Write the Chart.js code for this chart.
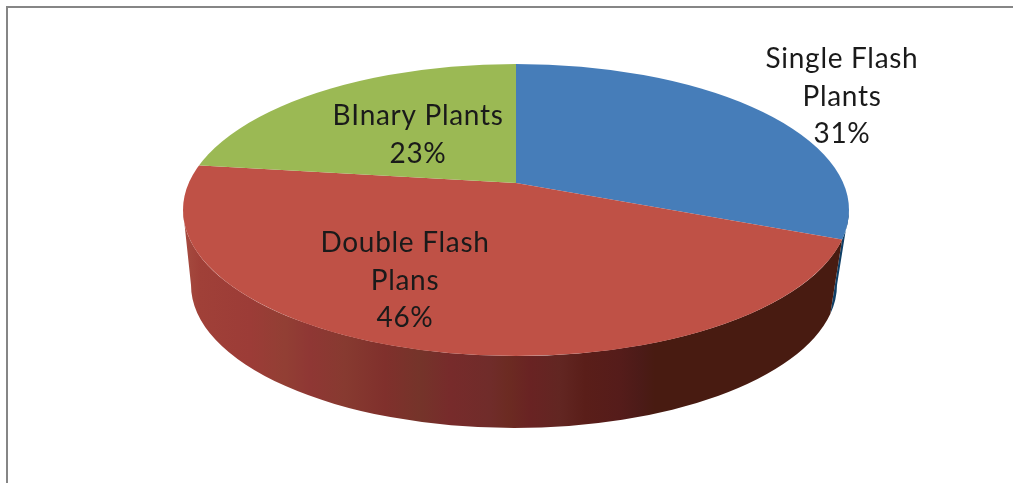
<!DOCTYPE html>
<html>
<head>
<meta charset="utf-8">
<title>Plant types</title>
<script src="https://cdn.jsdelivr.net/npm/chart.js@4"></script>
<style>
  html, body { margin: 0; padding: 0; background: #ffffff; overflow: hidden; }
  #wrap { position: relative; width: 1013px; height: 483px; }
  #frame { position: absolute; left: 6px; top: 6px; right: 0; bottom: 0; border-left: 2px solid #868686; border-top: 2px solid #868686; }
  #plantChart { position: absolute; left: 0; top: 0; }
</style>
</head>
<body>
<div id="wrap">
  <div id="frame"></div>
  <canvas id="plantChart"></canvas>
</div>
<script>
// data
const categories = ["Single Flash Plants", "Double Flash Plans", "BInary Plants"];
const shares = [31, 46, 23];
const labelLines = [["Single Flash", "Plants"], ["Double Flash", "Plans"], ["BInary Plants"]];
const sliceColors = ["#467db9", "#bf5146", "#9bb954"];

// label placement: center x, first baseline y
const labelSpots = [[842, 68], [405, 252], [418, 125]];
const lineGap = 37.5;

// tilted disc geometry, in page pixels
const apex = { x: 516, y: 183 }; // where the slices meet
const topFace = { x: 516, y: 210, rx: 333, ry: 146 };
const bottomFace = { x: 514, y: 285, rx: 323, ry: 143 };
const tilt = topFace.ry / topFace.rx;

// shading of the red wall: [x, color]
const wallBands = [
  [183, "#a64c40"], [200, "#a04038"], [250, "#9c3c37"], [285, "#923f34"],
  [310, "#8f3734"], [345, "#873a30"], [385, "#80302c"], [420, "#75342a"],
  [450, "#772b2b"], [490, "#702c2a"], [508, "#6c2b22"], [530, "#692323"],
  [560, "#622622"], [585, "#5a1e19"], [620, "#551c1a"], [640, "#4c1b18"],
  [655, "#481b11"], [849, "#481b11"],
];

function facePath(ctx, f) {
  ctx.beginPath();
  ctx.ellipse(f.x, f.y, f.rx, f.ry, 0, 0, Math.PI * 2);
}

// where the ray leaving the apex at a slice angle meets the rim
function rimParam(angle) {
  const dx = Math.cos(angle);
  const dy = Math.sin(angle) * tilt;
  const px = (apex.x - topFace.x) / topFace.rx;
  const py = (apex.y - topFace.y) / topFace.ry;
  const qx = dx / topFace.rx;
  const qy = dy / topFace.ry;
  const a = qx * qx + qy * qy;
  const b = 2 * (px * qx + py * qy);
  const c = px * px + py * py - 1;
  const k = (-b + Math.sqrt(b * b - 4 * a * c)) / (2 * a);
  return Math.atan2(py + qy * k, px + qx * k);
}

function wallPath(ctx, from, to) {
  ctx.beginPath();
  ctx.ellipse(topFace.x, topFace.y, topFace.rx, topFace.ry, 0, from, to);
  ctx.ellipse(bottomFace.x, bottomFace.y, bottomFace.rx, bottomFace.ry, 0, to, from, true);
  ctx.closePath();
}

const discPlugin = {
  id: "disc",
  beforeDatasetsDraw(chart) {
    const ctx = chart.ctx;
    const arcs = chart.getDatasetMeta(0).data;
    const rimA = rimParam(arcs[0].endAngle);

    // wall first, the top face covers the upper part of it
    ctx.save();
    ctx.fillStyle = "#0f3f66";
    wallPath(ctx, 0, rimA);
    ctx.fill();

    const grad = ctx.createLinearGradient(183, 0, 849, 0);
    wallBands.forEach((band) => {
      grad.addColorStop((band[0] - 183) / (849 - 183), band[1]);
    });
    ctx.fillStyle = grad;
    wallPath(ctx, rimA, Math.PI);
    ctx.fill();
    ctx.restore();

    // squash the pie about the apex and cut it to the rim
    ctx.save();
    facePath(ctx, topFace);
    ctx.clip();
    ctx.translate(apex.x, apex.y);
    ctx.scale(1, tilt);
    ctx.translate(-arcs[0].x, -arcs[0].y);
  },
  afterDatasetsDraw(chart) {
    const ctx = chart.ctx;
    ctx.restore();

    // slice labels
    ctx.save();
    ctx.font = '28px Lato, "Open Sans", sans-serif';
    ctx.letterSpacing = "0.7px";
    ctx.fillStyle = "#1a1a1a";
    ctx.textAlign = "center";
    ctx.textBaseline = "alphabetic";
    shares.forEach((value, i) => {
      const lines = labelLines[i].concat(value + "%");
      lines.forEach((line, j) => {
        ctx.fillText(line, labelSpots[i][0], labelSpots[i][1] + j * lineGap);
      });
    });
    ctx.restore();
  },
};

const config = {
  type: "pie",
  data: {
    labels: categories,
    datasets: [
      {
        data: shares,
        backgroundColor: sliceColors,
        borderWidth: 0,
        clip: false,
      },
    ],
  },
  options: {
    responsive: false,
    animation: false,
    radius: 450, // bigger than the disc, the rim clip trims it
    plugins: {
      legend: { display: false },
      tooltip: { enabled: false },
    },
  },
  plugins: [discPlugin],
};

const canvas = document.getElementById("plantChart");
canvas.width = 1013;
canvas.height = 483;
new Chart(canvas, config);
</script>
</body>
</html>
